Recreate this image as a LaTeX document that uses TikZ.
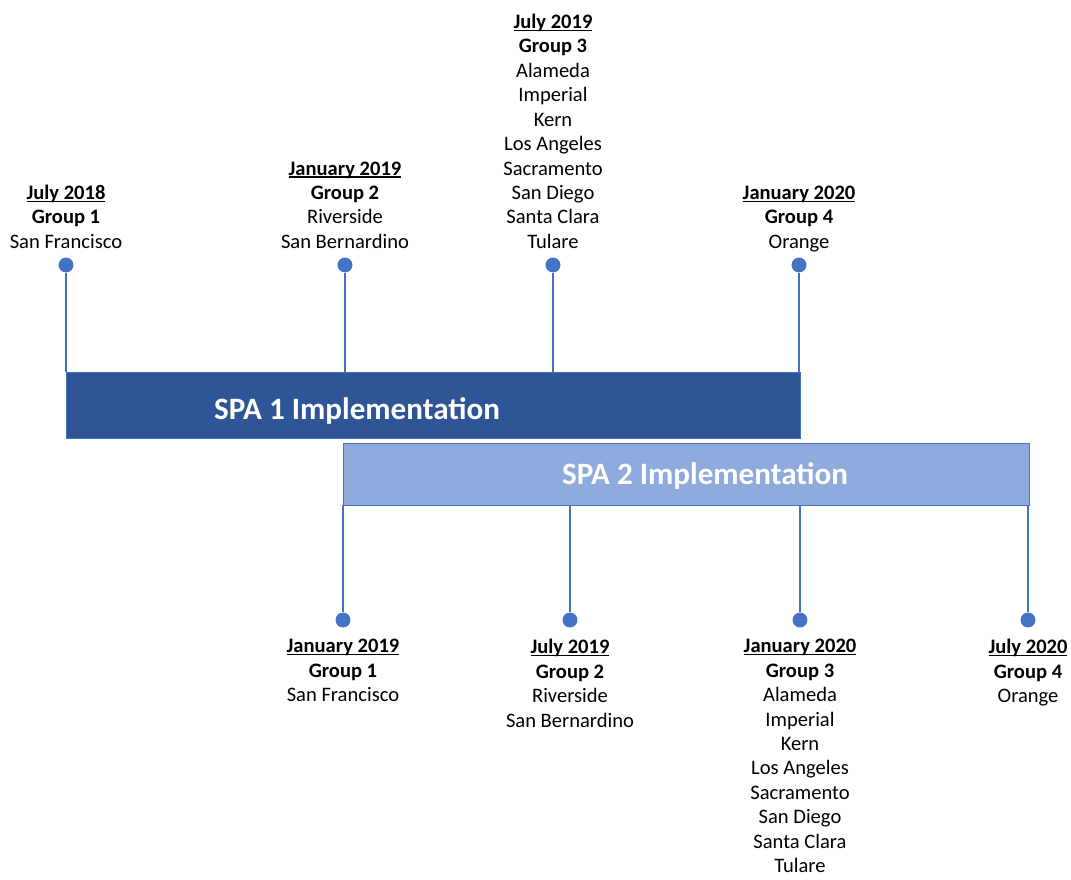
\documentclass[tikz,border=0pt]{standalone}
\usepackage{fontspec}
\setmainfont{Carlito}
\definecolor{spadark}{HTML}{2F5597}
\definecolor{spalight}{HTML}{8FAADC}
\definecolor{stemblue}{HTML}{4472C4}
\newcommand\dateul[1]{\setbox0\hbox{\textbf{#1}}\rlap{\rule[-1.4pt]{\wd0}{0.6pt}}\box0}
\begin{document}
\begin{tikzpicture}[x=0.02cm, y=-0.02cm,
	bar/.style = {rectangle, inner sep=0, draw=stemblue, line width=0.3pt},
	bartext/.style = {text=white, font=\fontsize{17.7}{20}\selectfont\bfseries, inner sep=0},
	dot/.style = {circle, fill=stemblue, inner sep=0, minimum size=8.5},
	stem/.style = {draw=stemblue, line width=1.1pt},
	info/.style = {align=center, inner sep=0, font=\fontsize{11.7}{13.9}\selectfont,
		execute at begin node=\strut, execute at end node=\strut}
	]
	\useasboundingbox (0,0) rectangle (1071,879);
	% bars
	\node[bar, fill=spadark, minimum width=14.68cm, minimum height=1.32cm] (spa1) at (433,405) {};
	\node[bar, fill=spalight, minimum width=13.72cm, minimum height=1.24cm] (spa2) at (686,474) {};
	\node[bartext] (spa1t) at (357,411) {SPA 1 Implementation};
	\node[bartext] (spa2t) at (705,476) {SPA 2 Implementation};
	% SPA 1 milestones
	\node[dot] (a1) at (66,265) {};
	\node[dot] (a2) at (345,265) {};
	\node[dot] (a3) at (553,265) {};
	\node[dot] (a4) at (799,265) {};
	\draw[stem] (a1) -- (a1 |- spa1.north);
	\draw[stem] (a2) -- (a2 |- spa1.north);
	\draw[stem] (a3) -- (a3 |- spa1.north);
	\draw[stem] (a4) -- (a4 |- spa1.north);
	\node[info, anchor=south] (a1t) at (66,256) {
		\dateul{July 2018}\\ \textbf{Group 1}\\ San Francisco
	};
	\node[info, anchor=south] (a2t) at (345,256) {
		\dateul{January 2019}\\ \textbf{Group 2}\\ Riverside\\ San Bernardino
	};
	\node[info, anchor=south] (a3t) at (553,256) {
		\dateul{July 2019}\\ \textbf{Group 3}\\ Alameda\\ Imperial\\ Kern\\
		Los Angeles\\ Sacramento\\ San Diego\\ Santa Clara\\ Tulare
	};
	\node[info, anchor=south] (a4t) at (799,256) {
		\dateul{January 2020}\\ \textbf{Group 4}\\ Orange
	};
	% SPA 2 milestones
	\node[dot] (b1) at (343,620) {};
	\node[dot] (b2) at (570,620) {};
	\node[dot] (b3) at (800,620) {};
	\node[dot] (b4) at (1028,620) {};
	\draw[stem] (b1) -- (b1 |- spa2.south);
	\draw[stem] (b2) -- (b2 |- spa2.south);
	\draw[stem] (b3) -- (b3 |- spa2.south);
	\draw[stem] (b4) -- (b4 |- spa2.south);
	\node[info, anchor=north] (b1t) at (343,639) {
		\dateul{January 2019}\\ \textbf{Group 1}\\ San Francisco
	};
	\node[info, anchor=north] (b2t) at (570,639) {
		\dateul{July 2019}\\ \textbf{Group 2}\\ Riverside\\ San Bernardino
	};
	\node[info, anchor=north] (b3t) at (800,639) {
		\dateul{January 2020}\\ \textbf{Group 3}\\ Alameda\\ Imperial\\ Kern\\
		Los Angeles\\ Sacramento\\ San Diego\\ Santa Clara\\ Tulare
	};
	\node[info, anchor=north] (b4t) at (1028,639) {
		\dateul{July 2020}\\ \textbf{Group 4}\\ Orange
	};
\end{tikzpicture}
\end{document}
